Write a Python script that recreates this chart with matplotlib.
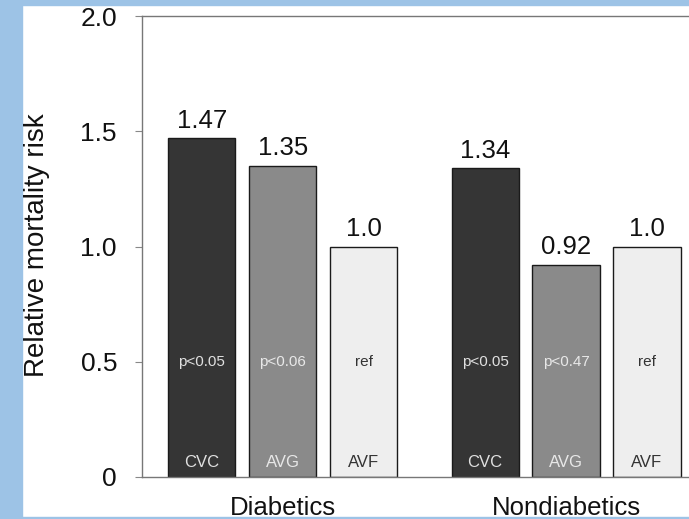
import matplotlib
matplotlib.use("Agg")
import matplotlib.pyplot as plt
from matplotlib.patches import Rectangle

plt.rcParams['font.family'] = ['Liberation Sans', 'DejaVu Sans']

groups = ["Diabetics", "Nondiabetics"]
access = ["CVC", "AVG", "AVF"]
diabetic_risk = [1.47, 1.35, 1.0]
nondiabetic_risk = [1.34, 0.92, 1.0]
value_labels_diab = ["1.47", "1.35", "1.0"]
value_labels_nondiab = ["1.34", "0.92", "1.0"]
p_diab = ["p<0.05", "p<0.06", "ref"]
p_nondiab = ["p<0.05", "p<0.47", "ref"]
yticks = [0, 0.5, 1.0, 1.5, 2.0]
ytick_labels = ["0", "0.5", "1.0", "1.5", "2.0"]

bar_colors = ["#353535", "#8a8a8a", "#eeeeee"]
inner_text_colors = ["#e0e0e0", "#e8e8e8", "#333333"]

fig = plt.figure(figsize=(6.89, 5.19), dpi=100)
fig.patch.set_facecolor("white")
blue = "#9dc3e6"
fig.patches.append(Rectangle((0, 0), 22/689, 1, transform=fig.transFigure, color=blue, zorder=0))
fig.patches.append(Rectangle((0, 1 - 5/519), 1, 5/519, transform=fig.transFigure, color=blue, zorder=0))
fig.patches.append(Rectangle((0, 0), 1, 2/519, transform=fig.transFigure, color=blue, zorder=0))

ax = fig.add_axes([142/689, 42/519, 1 - 142/689, 461/519])

group_offsets = [0.0, 3.5]
all_vals = [diabetic_risk, nondiabetic_risk]
all_vlabels = [value_labels_diab, value_labels_nondiab]
all_p = [p_diab, p_nondiab]
width = 0.83

for g, off in enumerate(group_offsets):
    xs = [off + i for i in range(len(access))]
    ax.bar(xs, all_vals[g], width=width, color=bar_colors, edgecolor="#1a1a1a", linewidth=1.0, zorder=2)
    for i, x in enumerate(xs):
        ax.annotate(all_vlabels[g][i], (x, all_vals[g][i]), xytext=(0, 4), textcoords="offset points",
                    ha="center", va="bottom", fontsize=18.5, color="#111111")
        ax.text(x, 0.5, all_p[g][i], ha="center", va="center", fontsize=11,
                color=inner_text_colors[i], zorder=3)
        ax.text(x, 0.065, access[i], ha="center", va="center", fontsize=12,
                color=inner_text_colors[i], zorder=3)
    ax.text(off + 1, -0.135, groups[g], ha="center", va="center", fontsize=18.5, color="#111111")

ax.set_xlim(-0.74, 6.02)
ax.set_ylim(0, 2.0)
ax.set_yticks(yticks)
ax.set_yticklabels(ytick_labels, fontsize=19, color="#111111")
ax.set_xticks([])
ax.tick_params(axis="y", length=5, width=0.8, color="#888888", pad=13)
for s in ["left", "top", "bottom"]:
    ax.spines[s].set_color("#777777")
    ax.spines[s].set_linewidth(1.0)
ax.spines["right"].set_visible(False)
fig.text(37/689, 1 - 245/519, "Relative mortality risk", rotation=90, ha="center", va="center",
         fontsize=20, color="#111111")

fig.savefig("out.png", dpi=100)
